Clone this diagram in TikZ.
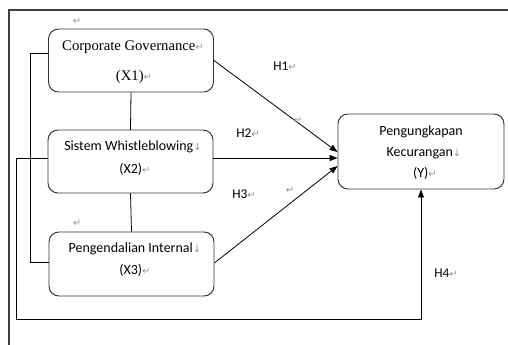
\documentclass[tikz,border=0pt]{standalone}
\usepackage{fontspec}
\setmainfont{Liberation Serif}
\newfontfamily\calib{Carlito}
\newfontfamily\symf{DejaVu Sans}
\usetikzlibrary{arrows.meta}
\definecolor{markgray}{RGB}{150,150,150}
\newcommand{\rmk}{{\symf\color{markgray}\fontsize{7.5}{8}\selectfont ↵}}
\newcommand{\dmk}{{\symf\color{markgray}\fontsize{7.5}{8}\selectfont ↓}}
\begin{document}
\begin{tikzpicture}[x=0.75pt,y=-0.75pt,
  varbox/.style={draw=black!80,line width=0.7pt,rounded corners=7.5pt,inner sep=0pt},
  lbl/.style={inner sep=0pt,font=\calib\fontsize{10.5}{12}\selectfont},
  serlbl/.style={inner sep=0pt,font=\fontsize{11}{13}\selectfont},
  hlbl/.style={inner sep=0pt,anchor=west,font=\calib\fontsize{10}{12}\selectfont},
  conn/.style={draw=black,line width=0.6pt},
  arr/.style={conn,-{Triangle[length=6pt,width=4.5pt]}},
  frame/.style={draw=black!75,line width=0.9pt}]
\useasboundingbox (0,0) rectangle (508,345);
% outer frame
\coordinate (fbl) at (9,345);
\coordinate (ftl) at (9,10);
\coordinate (ftr) at (508,10);
\draw[frame] (fbl) -- (ftl) -- (ftr);
% boxes
\node[varbox,minimum width=165*0.75pt,minimum height=63*0.75pt] (X1) at (131,60.5) {};
\node[varbox,minimum width=165*0.75pt,minimum height=63*0.75pt] (X2) at (130.5,161.5) {};
\node[varbox,minimum width=165*0.75pt,minimum height=64*0.75pt] (X3) at (131.5,264) {};
\node[varbox,minimum width=166*0.75pt,minimum height=75*0.75pt] (Y) at (421,151.5) {};
% texts
\node[serlbl] (t1a) at (133,47) {Corporate Governance\rmk};
\node[serlbl] (t1b) at (134,77) {(X1)\rmk};
\node[lbl] (t2a) at (133,147) {Sistem Whistleblowing\dmk};
\node[lbl] (t2b) at (135,169) {(X2)\rmk};
\node[lbl] (t3a) at (135,249) {Pengendalian Internal\dmk};
\node[lbl] (t3b) at (135,270) {(X3)\rmk};
\node[lbl] (tya) at (421,132) {Pengungkapan};
\node[lbl] (tyb) at (424,153) {Kecurangan\dmk};
\node[lbl] (tyc) at (425,173) {(Y)\rmk};
% vertical links
\draw[conn] (X1.south) -- (X2.north);
\draw[conn] (X2.south) -- (X3.north);
% bracket X1-X3
\draw[conn] ([yshift=5.6pt]X1.west) -- ++(-18,0) |- ([yshift=1.5pt]X3.west);
% H4 path
\coordinate (lowL) at (16,319);
\draw[arr] ([yshift=2.6pt]X2.west) -| (lowL) -| (Y.south);
% hypotheses arrows
\draw[arr] (X1.east) -- ([yshift=-0.4pt]Y.west);
\draw[arr] ([yshift=2.6pt]X2.east) -- ([yshift=-4.9pt]Y.west);
\draw[arr] ([yshift=0.8pt]X3.east) -- ([yshift=-10.9pt]Y.west);
% labels
\node[hlbl] (h1) at (273,66) {H1\rmk};
\node[hlbl] (h2) at (236,133) {H2\rmk};
\node[hlbl] (h3) at (232,194) {H3\rmk};
\node[hlbl] (h4) at (434,273) {H4\rmk};
% stray paragraph marks
\node[inner sep=0pt] (m1) at (298,120) {\rmk};
\node[inner sep=0pt] (m2) at (290,190) {\rmk};
\node[inner sep=0pt] (m3) at (77,21) {\rmk};
\node[inner sep=0pt] (m4) at (77,223) {\rmk};
\end{tikzpicture}
\end{document}
